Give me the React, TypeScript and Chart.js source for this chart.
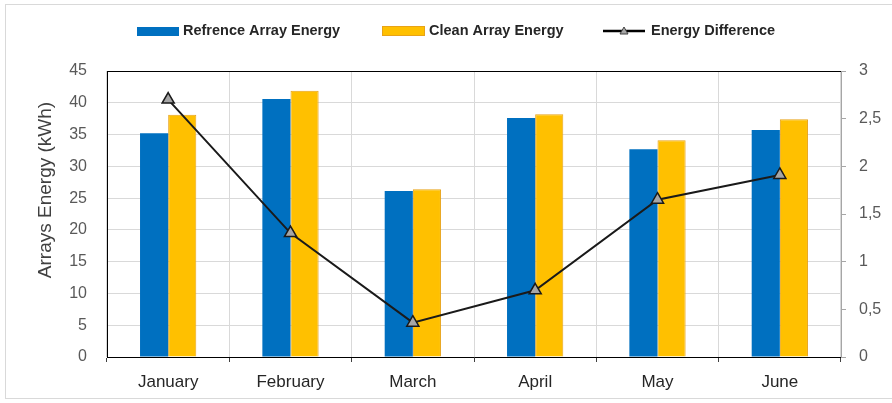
import React, { useEffect, useRef } from "react";
import { Chart, registerables } from "chart.js";

Chart.register(...registerables);

const categories = ["January", "February", "March", "April", "May", "June"];
const referenceEnergy = [35.2, 40.6, 26.1, 37.6, 32.7, 35.7];
const cleanEnergy = [38.1, 41.9, 26.4, 38.2, 34.1, 37.4];
const energyDifference = [2.7, 1.3, 0.36, 0.7, 1.65, 1.91];
const seriesNames = ["Refrence Array Energy", "Clean Array Energy", "Energy Difference"];
const yTitle = "Arrays Energy (kWh)";

const BLUE = "#0070c0";
const YELLOW = "#ffc000";
const ORANGE = "#e8a317";
const FONT = "'Liberation Sans', Arial, sans-serif";

const overlayPlugin = {
  id: "overlay",
  afterDraw(chart: any) {
    const ctx = chart.ctx;
    ctx.save();
    // y title
    ctx.save();
    ctx.translate(46, 190);
    ctx.rotate(-Math.PI / 2);
    ctx.font = `19px ${FONT}`;
    ctx.fillStyle = "#404040";
    ctx.textAlign = "center";
    ctx.textBaseline = "middle";
    ctx.fillText(yTitle, 0, 0);
    ctx.restore();
    // legend
    ctx.font = `bold 14.5px ${FONT}`;
    ctx.textBaseline = "middle";
    ctx.textAlign = "left";
    const ly = 31;
    ctx.fillStyle = BLUE;
    ctx.fillRect(137, 27, 42, 9);
    ctx.fillStyle = YELLOW;
    ctx.fillRect(382, 26, 43, 10);
    ctx.strokeStyle = ORANGE;
    ctx.lineWidth = 1;
    ctx.strokeRect(382.5, 26.5, 42, 9);
    ctx.strokeStyle = "#000";
    ctx.lineWidth = 2.5;
    ctx.beginPath();
    ctx.moveTo(603, ly);
    ctx.lineTo(645, ly);
    ctx.stroke();
    ctx.fillStyle = "#a6a6a6";
    ctx.strokeStyle = "#404040";
    ctx.lineWidth = 1;
    ctx.beginPath();
    ctx.moveTo(624, ly - 4);
    ctx.lineTo(628, ly + 3);
    ctx.lineTo(620, ly + 3);
    ctx.closePath();
    ctx.fill();
    ctx.stroke();
    ctx.fillStyle = "#262626";
    ctx.fillText(seriesNames[0], 183, ly);
    ctx.fillText(seriesNames[1], 429, ly);
    ctx.fillText(seriesNames[2], 651, ly);
    // plot top border
    const a = chart.chartArea;
    ctx.strokeStyle = "#000";
    ctx.lineWidth = 1;
    ctx.beginPath();
    ctx.moveTo(a.left, a.top + 0.5);
    ctx.lineTo(a.right, a.top + 0.5);
    ctx.stroke();
    ctx.restore();
  },
};

export default function App() {
  const ref = useRef<HTMLCanvasElement>(null);
  useEffect(() => {
    if (!ref.current) return;
    const chart = new Chart(ref.current, {
      type: "bar",
      data: {
        labels: categories,
        datasets: [
          {
            type: "line",
            label: seriesNames[2],
            data: energyDifference,
            yAxisID: "y1",
            borderColor: "#1a1a1a",
            borderWidth: 2,
            pointStyle: "triangle",
            pointRadius: 7,
            pointBackgroundColor: "#a6a6a6",
            pointBorderColor: "#1a1a1a",
            pointBorderWidth: 1.5,
            tension: 0,
            order: 0,
          } as any,
          {
            label: seriesNames[0],
            data: referenceEnergy,
            backgroundColor: BLUE,
            borderWidth: 0,
            yAxisID: "y",
            order: 1,
          },
          {
            label: seriesNames[1],
            data: cleanEnergy,
            backgroundColor: YELLOW,
            borderColor: ORANGE,
            borderWidth: 1,
            yAxisID: "y",
            order: 1,
          },
        ],
      },
      options: {
        responsive: false,
        animation: false,
        datasets: { bar: { categoryPercentage: 0.46, barPercentage: 1 } },
        layout: { padding: { top: 71, left: 0, right: 0, bottom: 0 } },
        plugins: { legend: { display: false }, tooltip: { enabled: false } },
        scales: {
          x: {
            grid: {
              offset: true,
              color: "#d9d9d9",
              tickColor: "#404040",
              tickLength: 5,
              drawTicks: true,
            },
            border: { color: "#000", width: 1 },
            ticks: { color: "#262626", font: { family: FONT, size: 17 }, padding: 10 },
            afterFit: (s: any) => { s.height = 46; },
          },
          y: {
            position: "left",
            min: 0,
            max: 45,
            ticks: { stepSize: 5, color: "#595959", font: { family: FONT, size: 16 }, padding: 20 },
            grid: { color: "#d9d9d9", drawTicks: false },
            border: { color: "#000", width: 1 },
            afterFit: (s: any) => { s.width = 107; },
          },
          y1: {
            position: "right",
            min: 0,
            max: 3,
            ticks: {
              stepSize: 0.5,
              color: "#595959",
              font: { family: FONT, size: 16 },
              padding: 13,
              callback: (v: any) => String(v).replace(".", ","),
            },
            grid: { drawOnChartArea: false, tickLength: 5, tickColor: "#a6a6a6" },
            border: { color: "#a6a6a6", width: 1 },
            afterFit: (s: any) => { s.width = 51; },
          },
        },
      } as any,
      plugins: [overlayPlugin],
    });
    return () => chart.destroy();
  }, []);
  return (
    <div style={{ position: "fixed", left: 0, top: 0, width: 892, height: 403, background: "#fff" }}>
      <div
        style={{
          position: "absolute",
          left: 5,
          top: 4,
          width: 900,
          height: 395,
          border: "1px solid #d9d9d9",
          boxSizing: "border-box",
        }}
      />
      <canvas ref={ref} width={892} height={403} style={{ position: "absolute", left: 0, top: 0 }} />
    </div>
  );
}
